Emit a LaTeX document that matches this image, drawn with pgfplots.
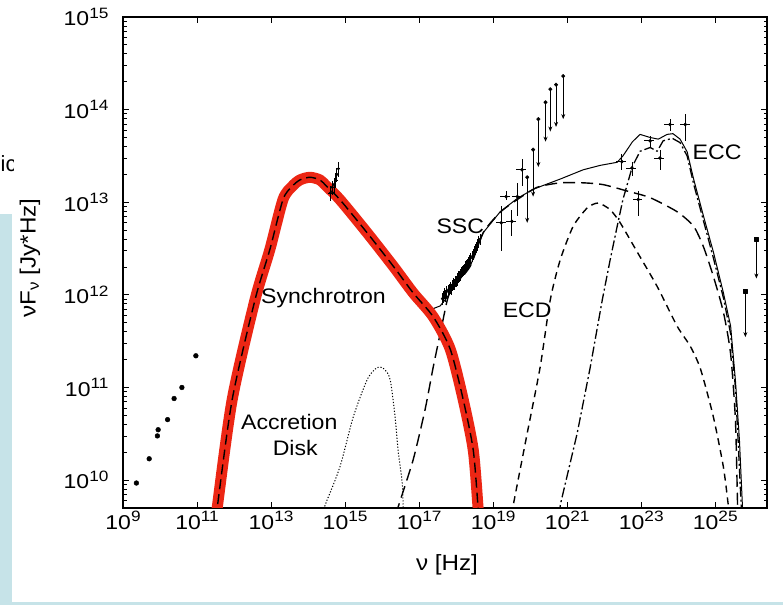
\documentclass[border=0pt]{standalone}
\usepackage{graphicx}
\usepackage{pgfplots}
\usepackage{pgfplotstable}
\pgfplotsset{compat=1.18}
\usetikzlibrary{arrows.meta}
\usepackage{fontspec}
\setmainfont{Liberation Sans}

\definecolor{panelblue}{RGB}{198,227,232}
\definecolor{bandred}{RGB}{236,38,20}

\newcommand{\stretchx}[1]{\scalebox{1.1}[1]{#1}}
\newcommand{\tickexp}[1]{\scalebox{1.15}[1]{10\raisebox{7.5pt}{\fontsize{15}{15}\selectfont #1}}}
\newcommand{\lbl}{\fontsize{21}{24}\selectfont}

% ---------- model components: nu [Hz], nuF_nu [Jy Hz] ----------
\pgfplotstableread{
nu F
3.3e11 4.0e9
3.5e11 5.0e9
8.9e11 7.4e10
3.7e12 8.9e11
9.3e12 3.1e12
2.1e13 1.07e13
3.7e13 1.48e13
6.0e13 1.74e13
1.12e14 1.86e13
2.1e14 1.74e13
3.2e14 1.48e13
7.2e14 1.07e13
3.9e15 4.7e12
2.0e16 2.04e12
6.9e16 1.05e12
2.4e17 5.8e11
6.9e17 2.6e11
1.55e18 7.4e10
2.9e18 2.1e10
3.9e18 5.1e9
4.1e18 4.0e9
}\synchrotron

\pgfplotstableread{
nu F
2.6e14 4.5e9
2.9e14 5.4e9
7.2e14 1.38e10
1.66e15 4.8e10
3.9e15 1.2e11
6.5e15 1.58e11
8.9e15 1.66e11
1.2e16 1.55e11
1.66e16 1.2e11
2.24e16 4.8e10
2.7e16 2.1e10
3.5e16 9.3e9
3.7e16 5.4e9
3.8e16 4.5e9
}\disk

\pgfplotstableread{
nu F
2.5e16 4.2e9
2.7e16 5.1e9
6.9e16 1.66e10
1.45e17 5.8e10
2.4e17 1.66e11
3.9e17 4.2e11
5.8e17 8.9e11
7.8e17 1.15e12
2.4e18 2.04e12
5.4e18 4.7e12
1.55e19 7.8e12
4.5e19 1.07e13
1.55e20 1.45e13
6.5e20 1.62e13
2.7e21 1.62e13
9.3e21 1.55e13
4.2e22 1.32e13
1.74e23 1.12e13
9.3e23 7.9e12
2.6e24 5.5e12
4.8e24 3.3e12
8.9e24 1.58e12
1.66e25 6.5e11
2.6e25 2.3e11
3.5e25 4.5e10
4.0e25 5.4e9
4.1e25 4.0e9
}\ssc

\pgfplotstableread{
nu F
3.2e19 4.2e9
3.5e19 5.4e9
8.3e19 3.2e10
1.86e20 1.66e11
3.5e20 8.9e11
6.5e20 2.4e12
1.45e21 5.5e12
3.5e21 8.7e12
6.9e21 9.8e12
1.45e22 8.3e12
2.7e22 6.0e12
7.8e22 2.9e12
2.7e23 1.23e12
9.3e23 4.6e11
2.1e24 2.8e11
4.0e24 1.58e11
8.9e24 4.8e10
1.66e25 1.38e10
2.24e25 5.4e9
2.35e25 4.2e9
}\ecd

\pgfplotstableread{
nu F
6.2e20 4.2e9
6.5e20 5.4e9
1.86e21 3.2e10
4.2e21 1.66e11
8.9e21 8.9e11
1.45e22 2.4e12
2.24e22 5.5e12
3.2e22 1.07e13
5.8e22 2.45e13
9.3e22 3.55e13
1.74e23 3.9e13
2.7e23 3.55e13
3.9e23 4.6e13
6.9e23 4.9e13
1.12e24 4.4e13
1.74e24 3.16e13
2.6e24 1.58e13
4.8e24 6.3e12
8.9e24 2.5e12
1.66e25 9.3e11
2.6e25 3.8e11
3.5e25 1.0e11
4.2e25 2.4e10
5.0e25 5.4e9
5.2e25 4.2e9
}\ecc

\pgfplotstableread{
nu F
6.9e16 1.05e12
1.29e17 7.8e11
2.4e17 7.1e11
3.7e17 7.6e11
5.8e17 9.5e11
7.8e17 1.15e12
2.4e18 2.04e12
5.4e18 4.7e12
1.55e19 7.9e12
4.5e19 1.1e13
1.2e20 1.38e13
6.5e20 1.78e13
2.7e21 2.24e13
7.8e21 2.5e13
2.24e22 2.7e13
3.2e22 3.16e13
5.8e22 4.5e13
9.3e22 5.4e13
1.74e23 5.0e13
2.9e23 4.8e13
5.0e23 5.4e13
7.2e23 5.5e13
1.12e24 4.8e13
1.74e24 3.5e13
2.6e24 1.78e13
4.8e24 7.1e12
8.9e24 2.9e12
1.66e25 1.05e12
2.6e25 4.6e11
3.5e25 1.2e11
4.5e25 2.7e10
5.4e25 5.4e9
5.6e25 4.2e9
}\total

% ---------- observations ----------
\pgfplotstableread{
nu F
2.3e9 9.3e9
5.1e9 1.7e10
8.5e9 3.0e10
8.9e9 3.5e10
1.6e10 4.5e10
2.4e10 7.6e10
3.9e10 1.0e11
9.3e10 2.2e11
}\radio

\pgfplotstableread{
nu F
4.0e14 1.26e13
4.5e14 1.45e13
5.0e14 1.55e13
5.6e14 1.74e13
6.0e14 2.0e13
6.6e14 2.3e13
}\optical

\pgfplotstableread{
nu F
4.2e17 9.1e11
4.5e17 9.6e11
4.8e17 1.05e12
5.2e17 9.8e11
5.6e17 1.08e12
6.0e17 1.12e12
6.4e17 1.16e12
6.8e17 1.2e12
7.4e17 1.15e12
7.9e17 1.27e12
8.3e17 1.32e12
8.8e17 1.30e12
9.3e17 1.41e12
9.9e17 1.40e12
1.05e18 1.45e12
1.11e18 1.52e12
1.17e18 1.58e12
1.25e18 1.60e12
1.32e18 1.66e12
1.40e18 1.76e12
1.48e18 1.82e12
1.57e18 1.84e12
1.66e18 1.9e12
1.78e18 2.02e12
1.9e18 2.1e12
2.05e18 2.15e12
2.2e18 2.24e12
2.35e18 2.38e12
2.5e18 2.5e12
2.7e18 2.6e12
2.9e18 2.75e12
3.1e18 2.95e12
3.3e18 3.1e12
3.55e18 3.3e12
3.8e18 3.5e12
4.1e18 3.75e12
4.4e18 4.0e12
}\xray

\pgfplotstableread{
nu F yp ym
1.66e19 6.0e12 3.1e12 3.05e12
2.24e19 1.15e13 0.17e13 0.08e13
3.2e19 6.2e12 2.1e12 1.9e12
4.5e19 1.15e13 4.7e12 4.4e12
6.0e19 2.24e13 6.6e12 7.6e12
3.0e22 2.75e13 0.6e13 0.5e13
5.6e22 2.34e13 0.36e13 0.44e13
8.3e22 1.07e13 0.25e13 0.36e13
1.74e23 4.6e13 0.6e13 0.7e13
3.2e23 3.0e13 0.7e13 0.76e13
6.0e23 6.9e13 1.0e13 1.0e13
1.55e24 6.9e13 2.0e13 2.3e13
}\gammadet

\pgfplotstableread{
nu F ym
8.3e19 1.86e13 1.26e13
1.2e20 3.7e13 2.55e13
1.66e20 7.9e13 5.5e13
2.6e20 1.2e14 7.5e13
3.5e20 1.66e14 1.08e14
5.0e20 1.86e14 1.21e14
7.8e20 2.3e14 1.51e14
}\gammaul

\pgfplotstableread{
nu F ym
6.5e25 1.1e12 0.75e12
1.29e26 4.0e12 2.5e12
}\tevul

\begin{document}
\begin{tikzpicture}
% page background and slide panel
\fill[white] (0pt,0pt) rectangle (783pt,605pt);
\fill[panelblue] (0pt,0pt) rectangle (12pt,391pt);
\fill[panelblue] (0pt,0pt) rectangle (783pt,3.5pt);
\begin{scope}
  \clip (0pt,420pt) rectangle (13pt,460pt);
  \node[anchor=base west, inner sep=0pt, font=\fontsize{22}{24}\selectfont] at (0.5pt,433pt) {ic};
\end{scope}

\begin{axis}[
  at={(123pt,97pt)}, anchor=south west,
  scale only axis, width=644pt, height=491pt,
  xmode=log, ymode=log,
  xmin=1e9, xmax=2.5e26, ymin=5e9, ymax=1e15,
  axis line style={line width=1.1pt},
  tick style={black, line width=0.8pt},
  major tick length=6pt, minor tick length=3.5pt,
  tick align=inside,
  xtick={1e9,1e11,1e13,1e15,1e17,1e19,1e21,1e23,1e25},
  xticklabels={\tickexp{9},\tickexp{11},\tickexp{13},\tickexp{15},\tickexp{17},\tickexp{19},\tickexp{21},\tickexp{23},\tickexp{25}},
  ytick={1e10,1e11,1e12,1e13,1e14,1e15},
  yticklabels={\tickexp{10},\tickexp{11},\tickexp{12},\tickexp{13},\tickexp{14},\tickexp{15}},
  minor ytick={6e9,7e9,8e9,9e9,
    2e10,3e10,4e10,5e10,6e10,7e10,8e10,9e10,
    2e11,3e11,4e11,5e11,6e11,7e11,8e11,9e11,
    2e12,3e12,4e12,5e12,6e12,7e12,8e12,9e12,
    2e13,3e13,4e13,5e13,6e13,7e13,8e13,9e13,
    2e14,3e14,4e14,5e14,6e14,7e14,8e14,9e14},
  ticklabel style={font=\fontsize{20}{22}\selectfont},
  yticklabel style={anchor=east, xshift=-11pt},
  every axis plot/.append style={line join=round},
]
% model components
\addplot[black, line width=1.4pt, dash pattern=on 7pt off 5pt, smooth, tension=0.4] table[x=nu,y=F] {\ecd};
\addplot[black, line width=1.3pt, dash pattern=on 10pt off 3pt on 2pt off 3pt] table[x=nu,y=F] {\ecc};
\addplot[black, line width=1.4pt, dash pattern=on 12pt off 6pt, smooth, tension=0.4] table[x=nu,y=F] {\ssc};
\addplot[black, line width=1pt, dash pattern=on 1.2pt off 1.8pt, smooth] table[x=nu,y=F] {\disk};
\addplot[black, line width=1pt] table[x=nu,y=F] {\total};
% highlighted synchrotron component
\addplot[bandred, line width=11pt, line cap=round, smooth, tension=0.45] table[x=nu,y=F] {\synchrotron};
\addplot[black, line width=1.4pt, dash pattern=on 10pt off 5pt, smooth, tension=0.45] table[x=nu,y=F] {\synchrotron};

% observations
\addplot[only marks, mark=*, mark size=2.4pt, black] table[x=nu,y=F] {\radio};
\addplot[only marks, mark=*, mark size=1.3pt, black,
  error bars/.cd, y dir=both, y fixed relative=0.18, x dir=both, x fixed relative=0.12,
  error mark=none, error bar style={line width=0.8pt}] table[x=nu,y=F] {\optical};
\addplot[only marks, mark=*, mark size=1.1pt, black,
  error bars/.cd, y dir=both, y fixed relative=0.14, error mark=none,
  error bar style={line width=0.8pt}] table[x=nu,y=F] {\xray};
\addplot[only marks, mark=*, mark size=1.6pt, black,
  error bars/.cd, y dir=both, y explicit, x dir=both, x fixed relative=0.3,
  error mark=none, error bar style={line width=0.8pt}] table[x=nu,y=F,y error plus=yp,y error minus=ym] {\gammadet};
\addplot[only marks, mark=*, mark size=1.8pt, black,
  error bars/.cd, y dir=minus, y explicit, error mark=none,
  error bar style={line width=0.8pt, -{Stealth[length=5pt,width=4pt]}}] table[x=nu,y=F,y error minus=ym] {\gammaul};
\addplot[only marks, mark=square*, mark size=2pt, black,
  error bars/.cd, y dir=minus, y explicit, error mark=none,
  error bar style={line width=0.8pt, -{Stealth[length=5pt,width=4pt]}}] table[x=nu,y=F,y error minus=ym] {\tevul};

% component labels
\node[font=\lbl] at (axis cs:2.6e14,9.3e11) {\stretchx{Synchrotron}};
\node[font=\lbl] at (axis cs:3.1e13,4.2e10) {\stretchx{Accretion}};
\node[font=\lbl] at (axis cs:4.5e13,2.24e10) {\stretchx{Disk}};
\node[font=\lbl] at (axis cs:1.29e18,5.5e12) {\stretchx{SSC}};
\node[font=\lbl] at (axis cs:8.3e19,6.9e11) {\stretchx{ECD}};
\node[font=\lbl] at (axis cs:1.12e25,3.5e13) {\stretchx{ECC}};
\end{axis}

% axis titles
\node[font=\fontsize{22}{24}\selectfont] at (447pt,40pt) {\stretchx{ν [Hz]}};
\node[font=\fontsize{22}{24}\selectfont, rotate=90] at (30pt,347pt) {\stretchx{νF\textsubscript{ν} [Jy*Hz]}};
\end{tikzpicture}
\end{document}
